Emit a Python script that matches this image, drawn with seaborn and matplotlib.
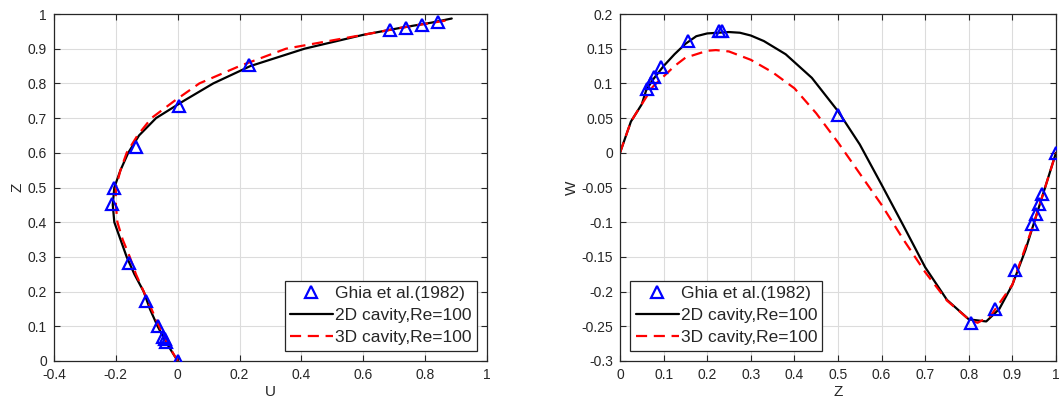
import matplotlib
matplotlib.use("Agg")
import matplotlib.pyplot as plt
import seaborn as sns

# Ghia et al. (1982), Re=100
ghia_u = [0.84123, 0.78871, 0.73722, 0.68717, 0.23151, 0.00332, -0.13641, -0.20581,
          -0.21090, -0.15662, -0.10150, -0.06434, -0.04775, -0.04192, -0.03717, 0.0]
ghia_uz = [0.9766, 0.9688, 0.9609, 0.9531, 0.8516, 0.7344, 0.6172, 0.5000,
           0.4531, 0.2813, 0.1719, 0.1016, 0.0703, 0.0625, 0.0547, 0.0]
ghia_wz = [1.0, 0.9688, 0.9609, 0.9531, 0.9453, 0.9063, 0.8594, 0.8047,
           0.5000, 0.2344, 0.2266, 0.1563, 0.0938, 0.0781, 0.0703, 0.0625]
ghia_w = [0.0, -0.05906, -0.07391, -0.08864, -0.10313, -0.16914, -0.22445, -0.24533,
          0.05454, 0.17527, 0.17507, 0.16077, 0.12317, 0.10890, 0.10091, 0.09233]

# U profile
z_2d = [0.0, 0.05, 0.1, 0.15, 0.2, 0.25, 0.3, 0.35, 0.4, 0.45, 0.5, 0.55, 0.6,
        0.65, 0.7, 0.75, 0.8, 0.85, 0.9, 0.94, 0.96, 0.975, 0.987]
u_2d = [0.0, -0.035, -0.065, -0.09, -0.11, -0.14, -0.165, -0.185, -0.205, -0.21,
        -0.205, -0.185, -0.16, -0.125, -0.07, 0.02, 0.115, 0.235, 0.41, 0.6, 0.72,
        0.82, 0.886]
z_3d = [0.0, 0.05, 0.1, 0.15, 0.2, 0.25, 0.3, 0.35, 0.4, 0.45, 0.5, 0.55, 0.6,
        0.65, 0.7, 0.75, 0.8, 0.85, 0.9, 0.94, 0.96, 0.983]
u_3d = [0.0, -0.033, -0.06, -0.085, -0.11, -0.135, -0.155, -0.178, -0.195, -0.2,
        -0.2, -0.185, -0.165, -0.13, -0.085, -0.01, 0.07, 0.2, 0.35, 0.6, 0.72, 0.88]

# W profile
x_2d = [0.0, 0.025, 0.05, 0.06, 0.075, 0.1, 0.125, 0.15, 0.175, 0.2, 0.25, 0.275,
        0.3, 0.33, 0.38, 0.44, 0.5, 0.55, 0.6, 0.65, 0.7, 0.75, 0.8, 0.84, 0.87,
        0.9, 0.93, 0.95, 0.97, 0.985, 1.0]
w_2d = [0.0, 0.045, 0.07, 0.09, 0.105, 0.125, 0.142, 0.157, 0.168, 0.172, 0.174,
        0.173, 0.169, 0.161, 0.142, 0.108, 0.06, 0.012, -0.046, -0.105, -0.165,
        -0.212, -0.24, -0.243, -0.225, -0.19, -0.14, -0.1, -0.06, -0.03, 0.0]
x_3d = [0.0, 0.025, 0.05, 0.075, 0.1, 0.125, 0.15, 0.2, 0.22, 0.25, 0.3, 0.35,
        0.4, 0.45, 0.5, 0.55, 0.6, 0.65, 0.7, 0.75, 0.8, 0.82, 0.85, 0.9, 0.95, 1.0]
w_3d = [0.0, 0.045, 0.07, 0.095, 0.11, 0.125, 0.137, 0.147, 0.148, 0.146, 0.134,
        0.116, 0.093, 0.057, 0.015, -0.03, -0.075, -0.125, -0.172, -0.213, -0.24,
        -0.245, -0.235, -0.19, -0.1, 0.0]

sns.set_style("whitegrid")
plt.rcParams['font.family'] = ['Liberation Sans', 'DejaVu Sans']

fig = plt.figure(figsize=(10.59, 4.01), dpi=100)
W, H = 1059, 401
ax1 = fig.add_axes([54 / W, 40 / H, 433 / W, 347 / H])
ax2 = fig.add_axes([620 / W, 40 / H, 436 / W, 347 / H])

lab_g = 'Ghia et al.(1982)'
lab_2 = '2D cavity,Re=100'
lab_3 = '3D cavity,Re=100'


def draw(ax, gx, gy, x2, y2, x3, y3):
    sns.lineplot(x=x2, y=y2, sort=False, estimator=None, color='black', lw=1.6,
                 ax=ax, label=lab_2)
    sns.lineplot(x=x3, y=y3, sort=False, estimator=None, color='red', lw=1.6,
                 ax=ax, label=lab_3, dashes=False, linestyle=(0, (5, 3)))
    ax.plot(gx, gy, linestyle='none', marker='^', ms=8, mfc='none', mec='blue',
            mew=1.6, label=lab_g, zorder=5)


draw(ax1, ghia_u, ghia_uz, u_2d, z_2d, u_3d, z_3d)
draw(ax2, ghia_wz, ghia_w, x_2d, w_2d, x_3d, w_3d)

ax1.set_xlim(-0.4, 1)
ax1.set_ylim(0, 1)
ax1.set_xticks([-0.4, -0.2, 0, 0.2, 0.4, 0.6, 0.8, 1])
ax1.set_xticklabels(['-0.4', '-0.2', '0', '0.2', '0.4', '0.6', '0.8', '1'])
ax1.set_yticks([i / 10 for i in range(11)])
ax1.set_yticklabels(['0'] + ['0.%d' % i for i in range(1, 10)] + ['1'])
ax1.set_xlabel('U')
ax1.set_ylabel('Z')

ax2.set_xlim(0, 1)
ax2.set_ylim(-0.3, 0.2)
ax2.set_xticks([i / 10 for i in range(11)])
ax2.set_xticklabels(['0'] + ['0.%d' % i for i in range(1, 10)] + ['1'])
wt = [-0.3, -0.25, -0.2, -0.15, -0.1, -0.05, 0, 0.05, 0.1, 0.15, 0.2]
ax2.set_yticks(wt)
ax2.set_yticklabels(['-0.3', '-0.25', '-0.2', '-0.15', '-0.1', '-0.05', '0',
                     '0.05', '0.1', '0.15', '0.2'])
ax2.set_xlabel('Z')
ax2.set_ylabel('W')

for ax, loc in [(ax1, 'lower right'), (ax2, 'lower left')]:
    ax.grid(True, color='#dcdcdc', lw=0.8)
    for s in ax.spines.values():
        s.set_color('#262626')
        s.set_linewidth(0.9)
        s.set_visible(True)
    ax.tick_params(direction='in', length=4, width=0.8, colors='#262626',
                   labelsize=10, top=True, right=True, bottom=True, left=True,
                   pad=5)
    ax.xaxis.label.set_color('#262626')
    ax.yaxis.label.set_color('#262626')
    ax.xaxis.label.set_size(11)
    ax.yaxis.label.set_size(11)
    ax.xaxis.labelpad = 2
    ax.yaxis.labelpad = 2
    h, l = ax.get_legend_handles_labels()
    order = [l.index(lab_g), l.index(lab_2), l.index(lab_3)]
    leg = ax.legend([h[i] for i in order], [l[i] for i in order], loc=loc,
                    fontsize=12.5, frameon=True, fancybox=False, framealpha=1,
                    edgecolor='#262626', borderaxespad=0.6, handlelength=2.5,
                    handletextpad=0.1, labelspacing=0.4, borderpad=0.3)
    leg.get_frame().set_linewidth(0.9)

fig.savefig('out.png', dpi=100)
